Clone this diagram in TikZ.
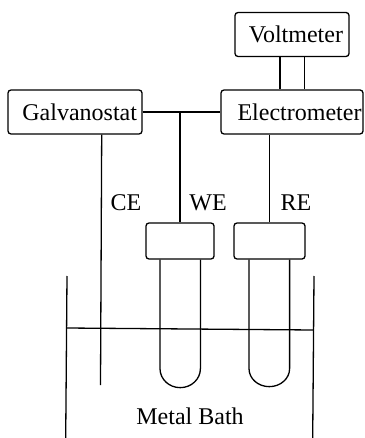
\documentclass[tikz,border=0pt]{standalone}
\usepackage{fontspec}
\setmainfont{Liberation Serif}
\usepackage{tikz}
\usetikzlibrary{positioning}
\begin{document}
\begin{tikzpicture}[
        x=1pt, y=-1pt,
        unit/.style={
            rectangle, rounded corners=3pt, draw=black, line width=1.3pt,
            inner ysep=0pt, align=right, minimum height=44pt,
            font=\fontsize{24}{26}\selectfont
        },
        head/.style={
            rectangle, rounded corners=3pt, draw=black, line width=1.3pt,
            minimum height=36pt, inner sep=0pt
        },
        wire/.style={line width=1.3pt, black},
        label/.style={font=\fontsize{24}{26}\selectfont, inner sep=0pt},
    ]
    \useasboundingbox (0,0) rectangle (364,438);

    % -- instruments --
    \node[unit, text width=102pt, inner xsep=6pt] (volt) at (292,34.5) {Voltmeter};
    \node[unit, text width=124pt, inner xsep=5pt] (gal) at (75,112) {Galvanostat};
    \node[unit, text width=139pt, inner xsep=1.5pt] (elec) at (292,112) {Electrometer};

    % -- electrode heads --
    \node[head, minimum width=68pt] (wehead) at (180,241) {};
    \node[head, minimum width=71pt] (rehead) at (269.5,241) {};

    % -- wires --
    \draw[wire] ([xshift=-12pt]volt.south) -- ([xshift=-12pt]volt.south |- elec.north);
    \draw[wire] ([xshift=12.7pt]volt.south) -- ([xshift=12.7pt]volt.south |- elec.north);
    \draw[wire] (gal.east) -- (elec.west);
    \draw[wire] (wehead.north |- gal.east) -- (wehead.north);
    \draw[wire] (rehead.north |- elec.south) -- (rehead.north);
    \coordinate (cebot) at (100.5,385);
    \draw[wire] ([xshift=26.7pt]gal.south) -- (cebot);

    % -- tubes --
    \draw[wire] ([xshift=-20pt]wehead.south) -- ++(0,109) arc[start angle=180, end angle=360, x radius=20.2pt, y radius=19pt] -- ([xshift=20.4pt]wehead.south);
    \draw[wire] ([xshift=-20.5pt]rehead.south) -- ++(0,109) arc[start angle=180, end angle=360, x radius=20.3pt, y radius=18pt] -- ([xshift=20.1pt]rehead.south);

    % -- bath --
    \draw[wire] (67,276) -- (65.7,438);
    \draw[wire] (314,276) -- (312.7,438);
    \draw[wire] (66.5,328) -- (313.5,330);

    % -- labels --
    \node[label] (ce) at (126,203) {CE};
    \node[label] (we) at (208,203) {WE};
    \node[label] (re) at (296,203) {RE};
    \node[label] (bath) at (190,416) {Metal Bath};
\end{tikzpicture}
\end{document}
